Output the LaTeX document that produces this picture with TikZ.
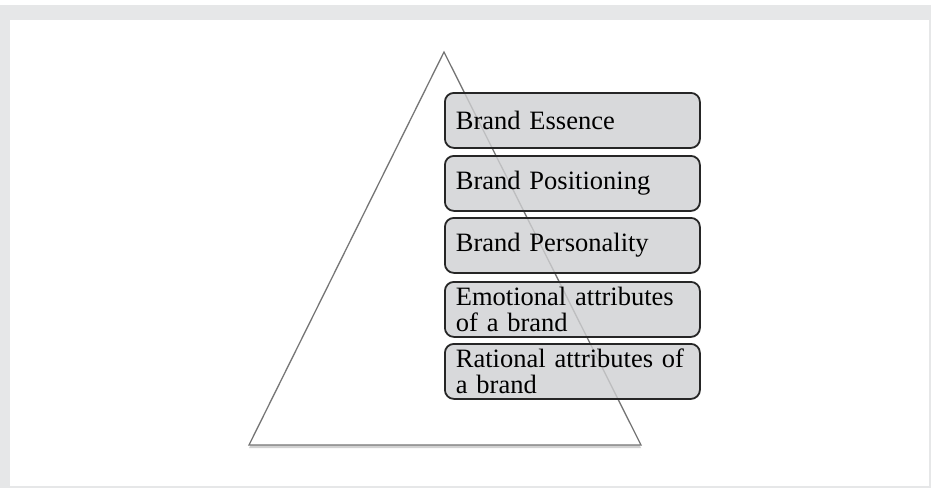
\documentclass[tikz,border=0pt]{standalone}
\usepackage{fontspec}
\setmainfont{Liberation Serif}
\usetikzlibrary{shadows}
\definecolor{framegrey}{HTML}{E6E7E8}
\definecolor{layergrey}{HTML}{CFD0D2}
\definecolor{edgegrey}{HTML}{767676}
\tikzset{
  layer/.style={draw=black!85,line width=1.8pt,rounded corners=9pt,
    fill=layergrey,fill opacity=0.8,text opacity=1,
    anchor=north west,minimum width=255pt,minimum height=55pt,
    text width=233pt,inner xsep=11pt,align=left,
    font=\fontsize{26.5}{25.5}\selectfont}
}

\begin{document}
\begin{tikzpicture}[x=1pt,y=-1pt]
  % page frame
  \fill[white] (0,0) rectangle (931,488);
  \fill[framegrey] (0,5) rectangle (931,488);
  \fill[white] (10,20) rectangle (929,486);

  % pyramid
  \coordinate (apex) at (444,52);
  \coordinate (bl) at (249,445);
  \coordinate (br) at (641,445);
  \draw[edgegrey,line width=1.3pt,fill=white,
        drop shadow={shadow xshift=0pt,shadow yshift=-3pt,opacity=0.35}]
    (apex) -- (bl) -- (br) -- cycle;

  % brand layers, top to bottom
  \foreach \i/\txt/\top in {1/{Brand Essence}/92, 2/{Brand Positioning}/155,
      3/{Brand Personality}/217, 4/{Emotional attributes\\of a brand}/281,
      5/{Rational attributes of\\a brand}/343} {
    \node[layer] (l\i) at (444,\top) {\txt};
  }
\end{tikzpicture}
\end{document}
